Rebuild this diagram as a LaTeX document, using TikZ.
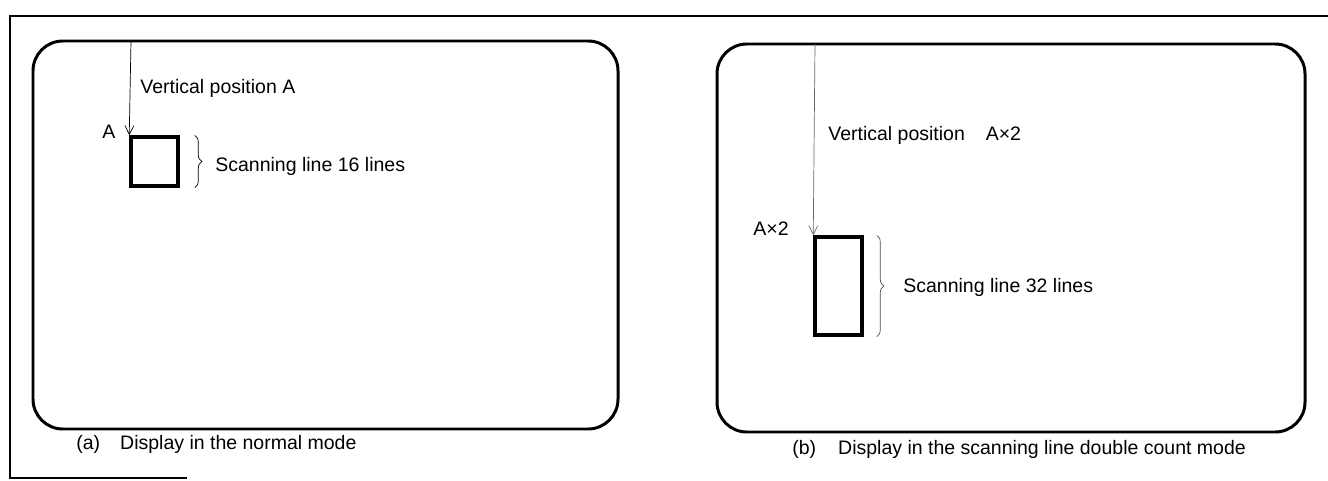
\documentclass[tikz,border=0pt]{standalone}
\usepackage{fontspec}
\setmainfont{Liberation Sans}
\usetikzlibrary{arrows.meta, decorations.pathreplacing}

\begin{document}
\begin{tikzpicture}[x=0.02cm, y=-0.02cm, >={Straight Barb[length=5pt, width=5pt]},
    screen/.style={line width=1.7pt, rounded corners=17pt},
    cellbox/.style={draw, line width=2pt, inner sep=0pt, minimum width=0.94cm},
    txt/.style={font=\fontsize{11.1}{13}\selectfont, inner sep=0pt, anchor=base west},
    scanbrace/.style={decorate, decoration={brace, amplitude=4pt}, thin}]

    \useasboundingbox (0,0) rectangle (1328,480);

    % --- LAYER 1: OUTER FRAME ---
    \draw[line width=1.3pt] (1328,16) -- (10,16) -- (10,478) -- (187,478);

    % --- LAYER 2: SCREENS ---
    \draw[screen] (33,41) rectangle (618,429);  % normal mode
    \draw[screen] (717,44) rectangle (1305,432); % double count mode

    % --- LAYER 3: CHARACTER BOXES ---
    \node[cellbox, minimum height=0.98cm] (cellA) at (154.5,161.5) {};
    \node[cellbox, minimum height=1.96cm] (cellB) at (838.5,286) {};

    % --- LAYER 4: VERTICAL POSITION ARROWS ---
    \coordinate (topA) at (131,41);
    \coordinate (topB) at (815,44);
    \draw[->, thin] (topA) -- (cellA.north west);
    \draw[->, thin, black!60] (topB) -- (cellB.north west);

    \node[txt] (posA) at (140,93) {Vertical position A};
    \node[txt] (markA) at (102,138) {A};
    \node[txt] (posB) at (828,140) {Vertical position\hspace{0.31cm} A×2};
    \node[txt] (markB) at (753,235) {A×2};

    % --- LAYER 5: BRACES FOR SCANNING LINES ---
    \draw[scanbrace] ([xshift=0.3cm]cellA.north east) -- ([xshift=0.3cm]cellA.south east);
    \draw[scanbrace, black!70] ([xshift=0.26cm]cellB.north east) -- ([xshift=0.26cm]cellB.south east);
    \node[txt] (scanA) at (215,171) {Scanning line 16 lines};
    \node[txt] (scanB) at (903,292) {Scanning line 32 lines};

    % --- LAYER 6: CAPTIONS ---
    \node[txt] (capA) at (76,449) {(a)\hspace{0.4cm}Display in the normal mode};
    \node[txt] (capB) at (792,454) {(b)\hspace{0.44cm}Display in the scanning line double count mode};

\end{tikzpicture}
\end{document}
